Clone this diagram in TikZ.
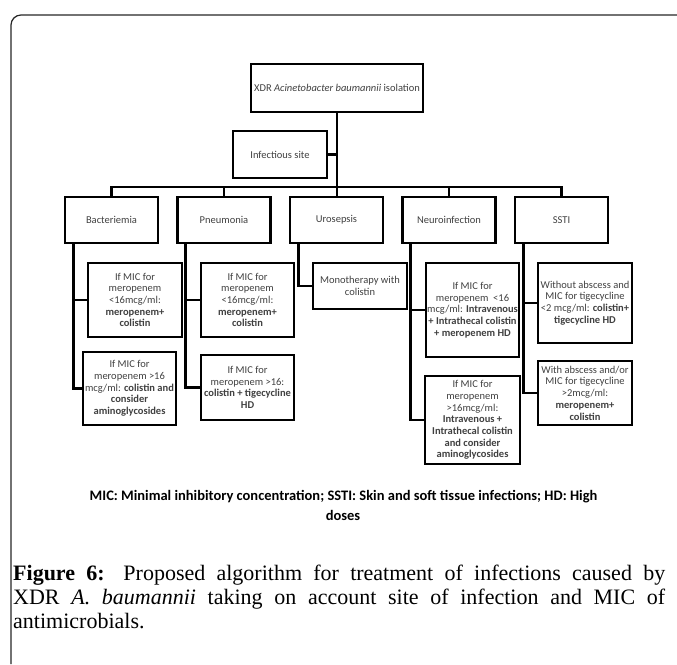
\documentclass[tikz,border=0pt]{standalone}
\usepackage{fontspec}
\setmainfont{Liberation Serif}
\newfontfamily\calibri{Carlito}
\usepackage{tikz}
\usetikzlibrary{calc,positioning}
\definecolor{boxtext}{gray}{0.25}

\begin{document}
\begin{tikzpicture}[x=1pt,y=-1pt]

\tikzset{topnode/.style={font=\calibri\fontsize{10.5}{11.7}\selectfont,draw=black,line width=2.8pt,inner sep=1pt,align=center,text=boxtext},
catnode/.style={topnode,minimum width=93pt,minimum height=46pt},
subnode/.style={topnode,minimum width=94pt},
edge/.style={line width=2.8pt},
captext/.style={anchor=base west,inner sep=0pt,font=\fontsize{22}{24}\selectfont}}

\useasboundingbox (0,0) rectangle (677,664);

% Frame
\draw[line width=1.2pt,color=black!85,rounded corners=10pt] (11,664) -- (11,15) -- (677,15);

% Top nodes
\node[topnode,minimum width=172pt,minimum height=48pt] (isolation) at (337,88) {XDR \textit{Acinetobacter baumannii} isolation};
\node[topnode,minimum width=94pt,minimum height=47pt] (site) at (280,154.5) {Infectious site};

% Infection sites
\foreach \n/\t [count=\i from 0] in {bact/Bacteriemia,pneu/Pneumonia,uro/Urosepsis,neuro/Neuroinfection,ssti/SSTI}
  \node[catnode] (\n) at (111.5+112.5*\i,220) {\t};
\coordinate (bar) at (0,187);

% Therapy nodes
\node[subnode,minimum height=74pt] (bact1) at (135,300) {If MIC for\\meropenem\\<16mcg/ml:\\\textbf{meropenem+}\\\textbf{colistin}};
\node[subnode,minimum width=93pt,minimum height=73pt] (bact2) at (129.5,388.5) {If MIC for\\meropenem >16\\mcg/ml: \textbf{colistin and}\\\textbf{consider}\\\textbf{aminoglycosides}};
\node[subnode,minimum width=93pt,minimum height=74pt] (pneu1) at (247.5,300) {If MIC for\\meropenem\\<16mcg/ml:\\\textbf{meropenem+}\\\textbf{colistin}};
\node[subnode,minimum width=93pt,minimum height=65pt] (pneu2) at (247.5,387.5) {If MIC for\\meropenem >16:\\\textbf{colistin + tigecycline}\\\textbf{HD}};
\node[subnode,minimum height=46pt] (uro1) at (360,286) {Monotherapy with\\colistin};
\node[subnode,minimum width=93pt,minimum height=94pt] (neuro1) at (472.5,310) {If MIC for\\meropenem\ \ <16\\mcg/ml: \textbf{Intravenous}\\\textbf{+ Intrathecal colistin}\\\textbf{+ meropenem HD}};
\node[subnode,minimum width=95pt,minimum height=88pt] (neuro2) at (472.5,420) {If MIC for\\meropenem\\>16mcg/ml:\\\textbf{Intravenous +}\\\textbf{Intrathecal colistin}\\\textbf{and consider}\\\textbf{aminoglycosides}};
\node[subnode,minimum height=80pt] (ssti1) at (585,303) {Without abscess and\\MIC for tigecycline\\<2 mcg/ml: \textbf{colistin+}\\\textbf{tigecycline HD}};
\node[subnode,minimum height=64pt] (ssti2) at (585,393) {With abscess and/or\\MIC for tigecycline\\>2mcg/ml:\\\textbf{meropenem+}\\\textbf{colistin}};

% Edges
\draw[edge] (isolation.south) -- (isolation.south |- uro.north);
\draw[edge] (site.east) -- (site.east -| isolation.south);
\draw[edge] (bact.north) -- (bact.north |- bar) -- (ssti.north |- bar) -- (ssti.north);
\foreach \n in {pneu,neuro} \draw[edge] (\n.north) -- (\n.north |- bar);
\foreach \n/\a/\b in {bact/bact1/bact2,pneu/pneu1/pneu2,neuro/neuro1/neuro2,ssti/ssti1/ssti2} {
  \draw[edge] ([xshift=9.5pt]\n.south west) |- (\b.west);
  \draw[edge] ([xshift=9.5pt]\n.south west) |- (\a.west);
}
\draw[edge] ([xshift=9.5pt]uro.south west) |- (uro1.west);

% Legend
\node[anchor=base,inner sep=0pt,font=\calibri\bfseries\fontsize{14.5}{16}\selectfont] (legend) at (343.5,500) {MIC: Minimal inhibitory concentration; SSTI: Skin and soft tissue infections; HD: High};
\node[anchor=base,inner sep=0pt,font=\calibri\bfseries\fontsize{14.5}{16}\selectfont] (legenddoses) at (343,520) {doses};

% Caption
\node[captext] (cap1) at (13,580) {\makebox[652pt][s]{\textbf{Figure 6:} Proposed algorithm for treatment of infections caused by}};
\node[captext] (cap2) at (13,604) {\makebox[652pt][s]{XDR \textit{A. baumannii} taking on account site of infection and MIC of}};
\node[captext] (cap3) at (13,628) {antimicrobials.};

\end{tikzpicture}
\end{document}
